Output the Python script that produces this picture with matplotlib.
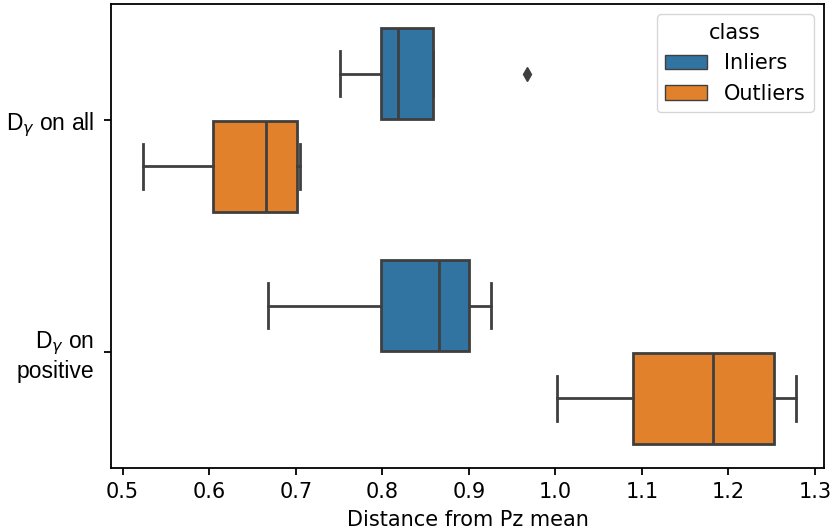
import matplotlib
matplotlib.use("Agg")
import matplotlib.pyplot as plt
from matplotlib.patches import Patch
import numpy as np

groups = ["D$_\\gamma$ on all", "D$_\\gamma$ on\npositive"]
classes = ["Inliers", "Outliers"]

# per class summary values, one entry per group
inl_lo = [0.751, 0.668]
inl_q1 = [0.798, 0.798]
inl_med = [0.818, 0.866]
inl_q3 = [0.859, 0.900]
inl_hi = [0.859, 0.926]
inl_fliers = [[0.967], []]

out_lo = [0.524, 1.002]
out_q1 = [0.604, 1.090]
out_med = [0.666, 1.182]
out_q3 = [0.701, 1.253]
out_hi = [0.705, 1.278]
out_fliers = [[], []]

colors = ["#3274a1", "#e1812c"]
gray = "#3f3f3f"
fs = 15

fig = plt.figure(figsize=(8.31, 5.32), dpi=100)
ax = fig.add_axes([111/831, 1-468/532, (824-111)/831, (468-4)/532])

def stats(lo, q1, med, q3, hi, fl):
    return [dict(whislo=lo[i], q1=q1[i], med=med[i], q3=q3[i], whishi=hi[i],
                 fliers=fl[i]) for i in range(len(lo))]

all_stats = [stats(inl_lo, inl_q1, inl_med, inl_q3, inl_hi, inl_fliers),
             stats(out_lo, out_q1, out_med, out_q3, out_hi, out_fliers)]

lw = 2.0
pos = np.arange(len(groups))
for k, st in enumerate(all_stats):
    off = -0.2 + 0.4 * k
    ax.bxp(st, positions=pos + off, widths=0.4 * 0.98, orientation="horizontal",
           patch_artist=True, manage_ticks=False,
           boxprops=dict(facecolor=colors[k], edgecolor=gray, linewidth=lw),
           medianprops=dict(color=gray, linewidth=lw),
           whiskerprops=dict(color=gray, linewidth=lw),
           capprops=dict(color=gray, linewidth=lw),
           flierprops=dict(marker="d", markerfacecolor=gray, markeredgecolor=gray,
                           markersize=7, linestyle="none"))

for s in ax.spines.values():
    s.set_linewidth(1.3)
ax.tick_params(length=5, width=1.3, pad=5)
ax.tick_params(axis="y", pad=7)
ax.set_ylim(1.5, -0.5)
ax.set_xlim(0.4865, 1.3105)
ax.set_yticks(pos)
ax.set_yticklabels(groups, family="Liberation Sans", fontsize=16.5)
ax.set_xticks(np.arange(0.5, 1.31, 0.1))
ax.set_xticklabels(["%.1f" % v for v in np.arange(0.5, 1.31, 0.1)], fontsize=fs)
ax.set_xlabel("Distance from Pz mean", fontsize=fs, labelpad=6)

handles = [Patch(facecolor=colors[k], edgecolor=gray, label=classes[k]) for k in range(2)]
ax.legend(handles=handles, title="class", loc="upper right", fontsize=fs,
          title_fontsize=fs)

fig.savefig("out.png", dpi=100)
